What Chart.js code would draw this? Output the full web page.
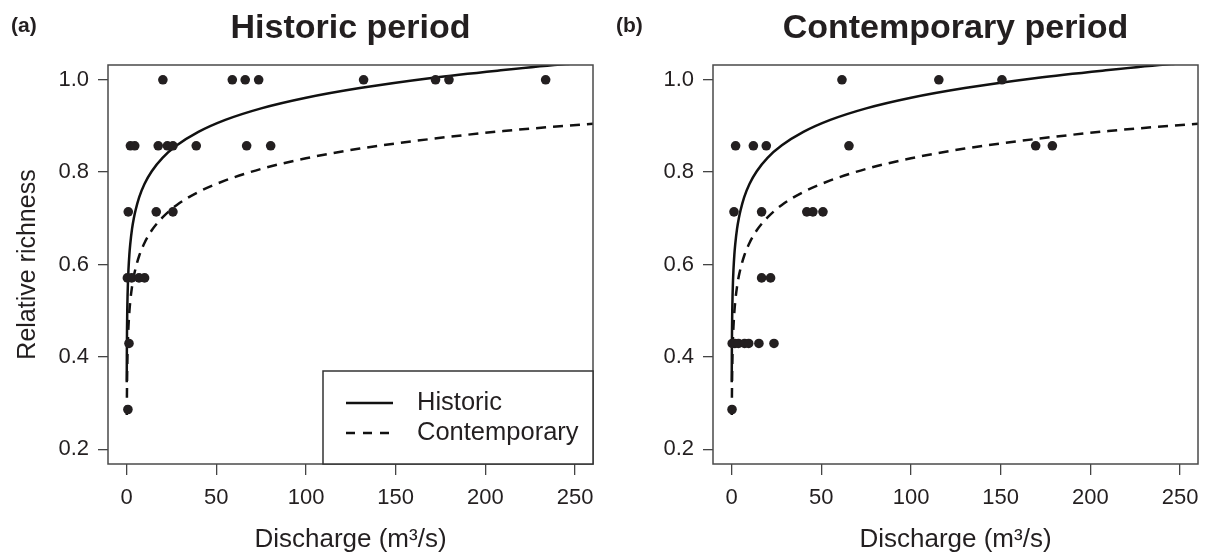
<!DOCTYPE html>
<html><head><meta charset="utf-8">
<script src="https://cdn.jsdelivr.net/npm/chart.js@4.4.0/dist/chart.umd.min.js"></script>
<style>
html,body{margin:0;padding:0;background:#fff;}
#wrap{position:relative;width:1206px;height:556px;overflow:hidden;background:#fff;}
.pane{position:absolute;top:0;width:601px;height:556px;}
</style></head><body>
<div id="wrap">
<div class="pane" style="left:0"><canvas id="cA" width="601" height="556"></canvas></div>
<div class="pane" style="left:605px"><canvas id="cB" width="601" height="556"></canvas></div>
</div>
<script>
// ---- tick labels ----
const xTicks = [0, 50, 100, 150, 200, 250];
const yTicks = [0.2, 0.4, 0.6, 0.8, 1.0];

// ---- fitted curves ----
const histCurveX = [0.05, 0.1, 0.2, 0.35, 0.5, 0.75, 1, 1.5, 2, 3, 4, 5, 7, 10, 14, 20, 28, 40, 55, 75, 100, 130, 170, 210, 245, 260];
const histCurveY = [0.345, 0.401, 0.458, 0.503, 0.532, 0.565, 0.588, 0.621, 0.644, 0.677, 0.700, 0.718, 0.746, 0.775, 0.802, 0.831, 0.858, 0.887, 0.913, 0.938, 0.961, 0.982, 1.004, 1.021, 1.034, 1.038];
const contCurveX = [0.09, 0.15, 0.25, 0.4, 0.6, 1, 1.5, 2, 3, 4, 5, 7, 10, 14, 20, 28, 40, 55, 75, 100, 130, 170, 210, 260];
const contCurveY = [0.274, 0.315, 0.355, 0.392, 0.425, 0.465, 0.497, 0.520, 0.552, 0.575, 0.592, 0.619, 0.647, 0.674, 0.702, 0.729, 0.757, 0.782, 0.807, 0.830, 0.851, 0.872, 0.889, 0.905];

// ---- observed points: (a) historic period ----
const histPtsX = [20.2, 58.9, 66.1, 73.6, 132.1, 172.2, 179.7, 233.6,
                  2.1, 4.5, 17.6, 22.7, 25.8, 38.8, 66.9, 80.3,
                  0.9, 16.5, 25.8,
                  0.4, 2.8, 6.9, 10.0,
                  1.3,
                  0.7];
const histPtsY = [1.0, 1.0, 1.0, 1.0, 1.0, 1.0, 1.0, 1.0,
                  0.857, 0.857, 0.857, 0.857, 0.857, 0.857, 0.857, 0.857,
                  0.714, 0.714, 0.714,
                  0.571, 0.571, 0.571, 0.571,
                  0.429,
                  0.286];

// ---- observed points: (b) contemporary period ----
const contPtsX = [61.5, 115.5, 150.7,
                  2.2, 12.1, 19.3, 65.4, 169.5, 178.8,
                  1.3, 16.7, 41.9, 45.3, 50.9,
                  16.7, 21.7,
                  0.3, 1.8, 3.8, 7.2, 9.5, 15.2, 23.6,
                  0.2];
const contPtsY = [1.0, 1.0, 1.0,
                  0.857, 0.857, 0.857, 0.857, 0.857, 0.857,
                  0.714, 0.714, 0.714, 0.714, 0.714,
                  0.571, 0.571,
                  0.429, 0.429, 0.429, 0.429, 0.429, 0.429, 0.429,
                  0.286];

const seriesNames = ['Historic', 'Contemporary'];

const FONT = "'Liberation Sans', Arial, Helvetica, sans-serif";
Chart.defaults.font.family = FONT;
Chart.defaults.color = '#231f20';

const zip = (xs, ys) => xs.map((x, i) => ({x: x, y: ys[i]}));

const panelPlugin = {
  id: 'panel',
  afterDraw(chart, args, opts) {
    const ctx = chart.ctx, a = chart.chartArea;
    ctx.save();
    // plot box
    ctx.strokeStyle = '#4a4a4a';
    ctx.lineWidth = 1.5;
    ctx.strokeRect(a.left, a.top, a.right - a.left, a.bottom - a.top);
    // panel tag and title
    ctx.fillStyle = '#231f20';
    ctx.textBaseline = 'alphabetic';
    ctx.textAlign = 'left';
    ctx.font = "bold 21px " + FONT;
    ctx.fillText(opts.tag, 11, 32);
    ctx.textAlign = 'center';
    ctx.font = "bold 34px " + FONT;
    ctx.fillText(opts.title, (a.left + a.right) / 2, 38);
    // legend
    if (opts.legend) {
      const bx = 323, by = 371, bw = a.right - bx, bh = a.bottom - by;
      ctx.fillStyle = '#fff';
      ctx.fillRect(bx, by, bw, bh);
      ctx.strokeStyle = '#333';
      ctx.lineWidth = 1.5;
      ctx.strokeRect(bx, by, bw, bh);
      const rows = [{y: 403, ds: chart.data.datasets[0]}, {y: 433, ds: chart.data.datasets[1]}];
      rows.forEach(r => {
        ctx.strokeStyle = '#111';
        ctx.lineWidth = 2.4;
        ctx.setLineDash(r.ds.borderDash && r.ds.borderDash.length ? [9, 8] : []);
        ctx.beginPath();
        ctx.moveTo(346, r.y);
        ctx.lineTo(393, r.y);
        ctx.stroke();
        ctx.setLineDash([]);
        ctx.fillStyle = '#231f20';
        ctx.font = "25.5px " + FONT;
        ctx.textAlign = 'left';
        ctx.textBaseline = 'middle';
        ctx.fillText(r.ds.label, 417, r.y);
      });
    }
    ctx.restore();
  }
};

function makeChart(id, ptsX, ptsY, tag, title, showYTitle, showLegend) {
  return new Chart(document.getElementById(id), {
    type: 'scatter',
    data: {
      datasets: [
        {label: seriesNames[0], data: zip(histCurveX, histCurveY), showLine: true, pointRadius: 0,
         borderColor: '#111', borderWidth: 2.5, cubicInterpolationMode: 'monotone', fill: false, order: 2},
        {label: seriesNames[1], data: zip(contCurveX, contCurveY), showLine: true, pointRadius: 0,
         borderColor: '#111', borderWidth: 2.5, borderDash: [10, 7], cubicInterpolationMode: 'monotone', fill: false, order: 2},
        {label: 'Sites', data: zip(ptsX, ptsY), pointRadius: 4.8, pointHoverRadius: 4.8,
         backgroundColor: '#231f20', borderWidth: 0, order: 1}
      ]
    },
    options: {
      responsive: false,
      animation: false,
      devicePixelRatio: 1,
      events: [],
      layout: {padding: {top: 65, right: 8, left: 0, bottom: 0}},
      plugins: {
        legend: {display: false},
        tooltip: {enabled: false},
        title: {display: false},
        panel: {tag: tag, title: title, legend: showLegend}
      },
      scales: {
        x: {
          type: 'linear', min: -10.4, max: 260,
          afterBuildTicks: s => { s.ticks = xTicks.map(v => ({value: v})); },
          afterFit: s => { s.height = 92; s.paddingLeft = 0; s.paddingRight = 0; },
          ticks: {font: {size: 22}, color: '#231f20', padding: 10, maxRotation: 0, autoSkip: false,
                  callback: v => String(v)},
          grid: {display: true, drawOnChartArea: false, drawTicks: true, tickLength: 11, tickColor: '#444', lineWidth: 1.3},
          border: {display: false},
          title: {display: true, text: 'Discharge (m³/s)', font: {size: 26}, color: '#231f20', padding: {top: 0, bottom: 1}}
        },
        y: {
          type: 'linear', min: 0.168, max: 1.032,
          afterBuildTicks: s => { s.ticks = yTicks.map(v => ({value: v})); },
          afterFit: s => { s.width = 108; s.paddingTop = 0; s.paddingBottom = 0; },
          ticks: {font: {size: 22}, color: '#231f20', padding: 9, autoSkip: false,
                  callback: v => Number(v).toFixed(1)},
          grid: {display: true, drawOnChartArea: false, drawTicks: true, tickLength: 10, tickColor: '#444', lineWidth: 1.3},
          border: {display: false},
          title: {display: showYTitle, text: 'Relative richness', font: {size: 25}, color: '#231f20', padding: {top: 13, bottom: 0}}
        }
      }
    },
    plugins: [panelPlugin]
  });
}

makeChart('cA', histPtsX, histPtsY, '(a)', 'Historic period', true, true);
makeChart('cB', contPtsX, contPtsY, '(b)', 'Contemporary period', false, false);
</script>
</body></html>
